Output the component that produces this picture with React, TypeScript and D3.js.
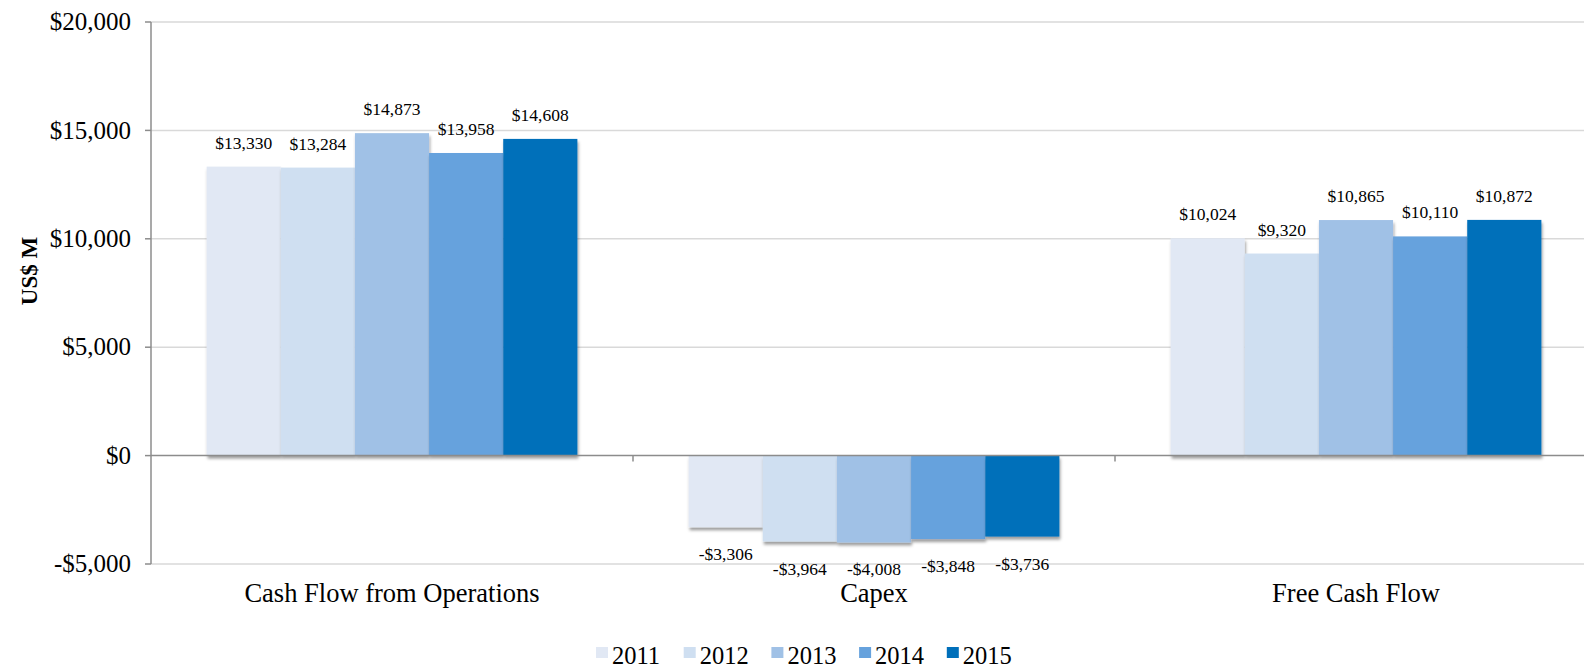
import React from "react";
import * as d3 from "d3";

const categories = ["Cash Flow from Operations", "Capex", "Free Cash Flow"];
const years = ["2011", "2012", "2013", "2014", "2015"];
const v2011 = [13330, -3306, 10024];
const v2012 = [13284, -3964, 9320];
const v2013 = [14873, -4008, 10865];
const v2014 = [13958, -3848, 10110];
const v2015 = [14608, -3736, 10872];
const seriesValues = [v2011, v2012, v2013, v2014, v2015];
const colors = ["#E1E8F4", "#CFDFF1", "#A0C1E6", "#66A2DD", "#006FBA"];
const yTicks = [-5000, 0, 5000, 10000, 15000, 20000];
const yTitle = "US$ M";

const W = 1584;
const H = 664;
const FONT = "'Liberation Serif', 'Times New Roman', serif";

const fmt = (v: number) => (v < 0 ? "-" : "") + "$" + d3.format(",")(Math.abs(v));

export default function App() {
  const left = 151;
  const bandW = 482;
  const x = d3
    .scaleBand<string>()
    .domain(categories)
    .range([left, left + bandW * categories.length])
    .paddingInner(0)
    .paddingOuter(0);
  const gap = 0.75; // half of 150% gap width, in bar units
  const barW = x.bandwidth() / (years.length + 2 * gap);
  const xs = d3
    .scaleBand<string>()
    .domain(years)
    .range([barW * gap, x.bandwidth() - barW * gap])
    .padding(0);
  const y = d3.scaleLinear().domain([-5000, 20000]).range([564, 22]);
  const y0 = y(0);

  return (
    <svg
      width={W}
      height={H}
      style={{ position: "absolute", left: 0, top: 0, background: "#fff" }}
      fontFamily={FONT}
    >
      <defs>
        <filter id="shadow" x="-10%" y="-10%" width="130%" height="130%">
          <feDropShadow dx="1" dy="3" stdDeviation="1.8" floodColor="#000" floodOpacity="0.38" />
        </filter>
      </defs>
      {/* gridlines */}
      {yTicks
        .filter((t) => t !== 0)
        .map((t) => (
          <line key={"g" + t} x1={left} x2={W} y1={y(t)} y2={y(t)} stroke="#D9D9D9" strokeWidth={1.5} />
        ))}
      {/* y tick marks and labels */}
      {yTicks.map((t) => (
        <g key={"t" + t}>
          <line x1={left - 6} x2={left} y1={y(t)} y2={y(t)} stroke="#8C8C8C" strokeWidth={1.5} />
          <text x={131} y={y(t)} dy="0.33em" textAnchor="end" fontSize={25} fill="#000">
            {fmt(t)}
          </text>
        </g>
      ))}
      {/* bars */}
      {categories.map((c, ci) => (
        <g key={c} transform={`translate(${x(c)},0)`}>
          {years.map((yr, si) => {
            const v = seriesValues[si][ci];
            const top = Math.min(y(v), y0);
            const h = Math.abs(y(v) - y0);
            return (
              <rect
                key={yr}
                x={xs(yr)}
                y={top}
                width={xs.bandwidth()}
                height={h}
                fill={colors[si]}
                filter="url(#shadow)"
              />
            );
          })}
        </g>
      ))}
      {/* data labels */}
      {categories.map((c, ci) => (
        <g key={"l" + c} transform={`translate(${x(c)},0)`}>
          {years.map((yr, si) => {
            const v = seriesValues[si][ci];
            const cx = (xs(yr) as number) + xs.bandwidth() / 2;
            const ty = v >= 0 ? y(v) - 18 : y(v) + 33;
            return (
              <text key={yr} x={cx} y={ty} textAnchor="middle" fontSize={17.5} fill="#000">
                {fmt(v)}
              </text>
            );
          })}
        </g>
      ))}
      {/* axes */}
      <line x1={left} x2={left} y1={y(20000)} y2={y(-5000)} stroke="#8C8C8C" strokeWidth={1.5} />
      <line x1={left} x2={W} y1={y0} y2={y0} stroke="#8C8C8C" strokeWidth={1.5} />
      {categories.slice(1).map((c) => (
        <line key={"ct" + c} x1={x(c)} x2={x(c)} y1={y0} y2={y0 + 6} stroke="#8C8C8C" strokeWidth={1.5} />
      ))}
      {/* category labels */}
      {categories.map((c) => (
        <text
          key={"cl" + c}
          x={(x(c) as number) + x.bandwidth() / 2}
          y={602}
          textAnchor="middle"
          fontSize={26.5}
          fill="#000"
        >
          {c}
        </text>
      ))}
      {/* y title */}
      <text
        transform={`translate(37,271) rotate(-90)`}
        textAnchor="middle"
        fontSize={23}
        fontWeight="bold"
        fill="#000"
      >
        {yTitle}
      </text>
      {/* legend */}
      {years.map((yr, i) => {
        const lx = 596 + i * 87.7;
        return (
          <g key={"lg" + yr}>
            <rect x={lx} y={647} width={12} height={11} fill={colors[i]} />
            <text x={lx + 16} y={664} fontSize={24.5} fill="#000">
              {yr}
            </text>
          </g>
        );
      })}
    </svg>
  );
}
